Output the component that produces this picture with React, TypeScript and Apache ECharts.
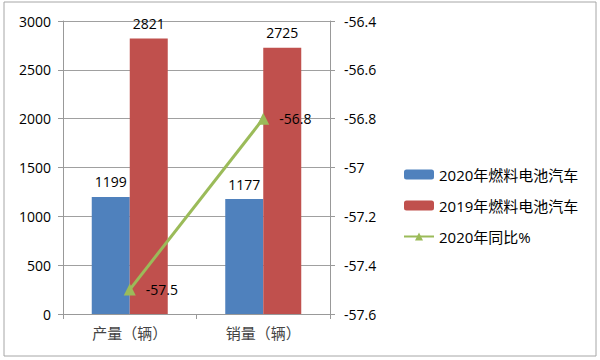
import React, { useEffect, useRef } from "react";
import * as echarts from "echarts";

const categories = ["产量（辆）", "销量（辆）"];
const series2020 = [1199, 1177];
const series2019 = [2821, 2725];
const yoy2020 = [-57.5, -56.8];
const seriesNames = ["2020年燃料电池汽车", "2019年燃料电池汽车", "2020年同比%"];

const FONT = "'Open Sans', 'Noto Sans CJK SC', sans-serif";

export default function App() {
  const ref = useRef<HTMLDivElement>(null);
  useEffect(() => {
    document.body.style.margin = "0";
    const chart = echarts.init(ref.current!, undefined, { renderer: "svg" });
    chart.setOption({
      animation: false,
      backgroundColor: "#fff",
      textStyle: { fontFamily: FONT },
      graphic: [
        {
          type: "rect",
          shape: { x: 4, y: 2, width: 592, height: 354 },
          style: { fill: "none", stroke: "#a6a6a6", lineWidth: 1 },
          silent: true,
        },
      ],
      grid: { left: 63, right: 270, top: 21, bottom: 46 },
      legend: {
        orient: "vertical",
        left: 398,
        top: 162,
        itemWidth: 30,
        itemHeight: 10,
        itemGap: 16,
        textStyle: { fontSize: 15, color: "#000", fontFamily: FONT },
        data: seriesNames,
      },
      xAxis: {
        type: "category",
        data: categories,
        axisLine: { lineStyle: { color: "#999" } },
        axisTick: { show: true, length: 5, lineStyle: { color: "#999" } },
        axisLabel: { fontSize: 15, color: "#444", margin: 11, fontFamily: FONT },
      },
      yAxis: [
        {
          type: "value",
          min: 0,
          max: 3000,
          interval: 500,
          axisLine: { show: true, lineStyle: { color: "#999" } },
          axisTick: { show: true, length: 5, lineStyle: { color: "#999" } },
          splitLine: { lineStyle: { color: "#a0a0a0" } },
          axisLabel: { fontSize: 14, color: "#000", margin: 12, formatter: (v: number) => String(v) },
        },
        {
          type: "value",
          min: -57.6,
          max: -56.4,
          interval: 0.2,
          axisLine: { show: true, lineStyle: { color: "#999" } },
          axisTick: { show: true, length: 5, lineStyle: { color: "#999" } },
          splitLine: { show: false },
          axisLabel: {
            fontSize: 14,
            color: "#000",
            margin: 14,
            formatter: (v: number) => String(Math.round(v * 10) / 10),
          },
        },
      ],
      series: [
        {
          name: seriesNames[0],
          type: "bar",
          data: series2020,
          barWidth: 38,
          barGap: "0%",
          itemStyle: { color: "#4F81BD" },
          label: { show: true, position: "top", distance: 8, fontSize: 14, color: "#000" },
        },
        {
          name: seriesNames[1],
          type: "bar",
          data: series2019,
          barWidth: 38,
          barGap: "0%",
          itemStyle: { color: "#C0504D" },
          label: { show: true, position: "top", distance: 8, fontSize: 14, color: "#000" },
        },
        {
          name: seriesNames[2],
          type: "line",
          yAxisIndex: 1,
          data: yoy2020,
          symbol: "triangle",
          symbolSize: 12,
          lineStyle: { color: "#9BBB59", width: 3 },
          itemStyle: { color: "#9BBB59" },
          label: {
            show: true,
            position: "right",
            distance: 10,
            fontSize: 14,
            color: "#000",
            formatter: (p: any) => String(p.value),
          },
        },
      ],
    });
    return () => chart.dispose();
  }, []);
  return <div ref={ref} style={{ width: 600, height: 360, position: "absolute", left: 0, top: 0 }} />;
}
